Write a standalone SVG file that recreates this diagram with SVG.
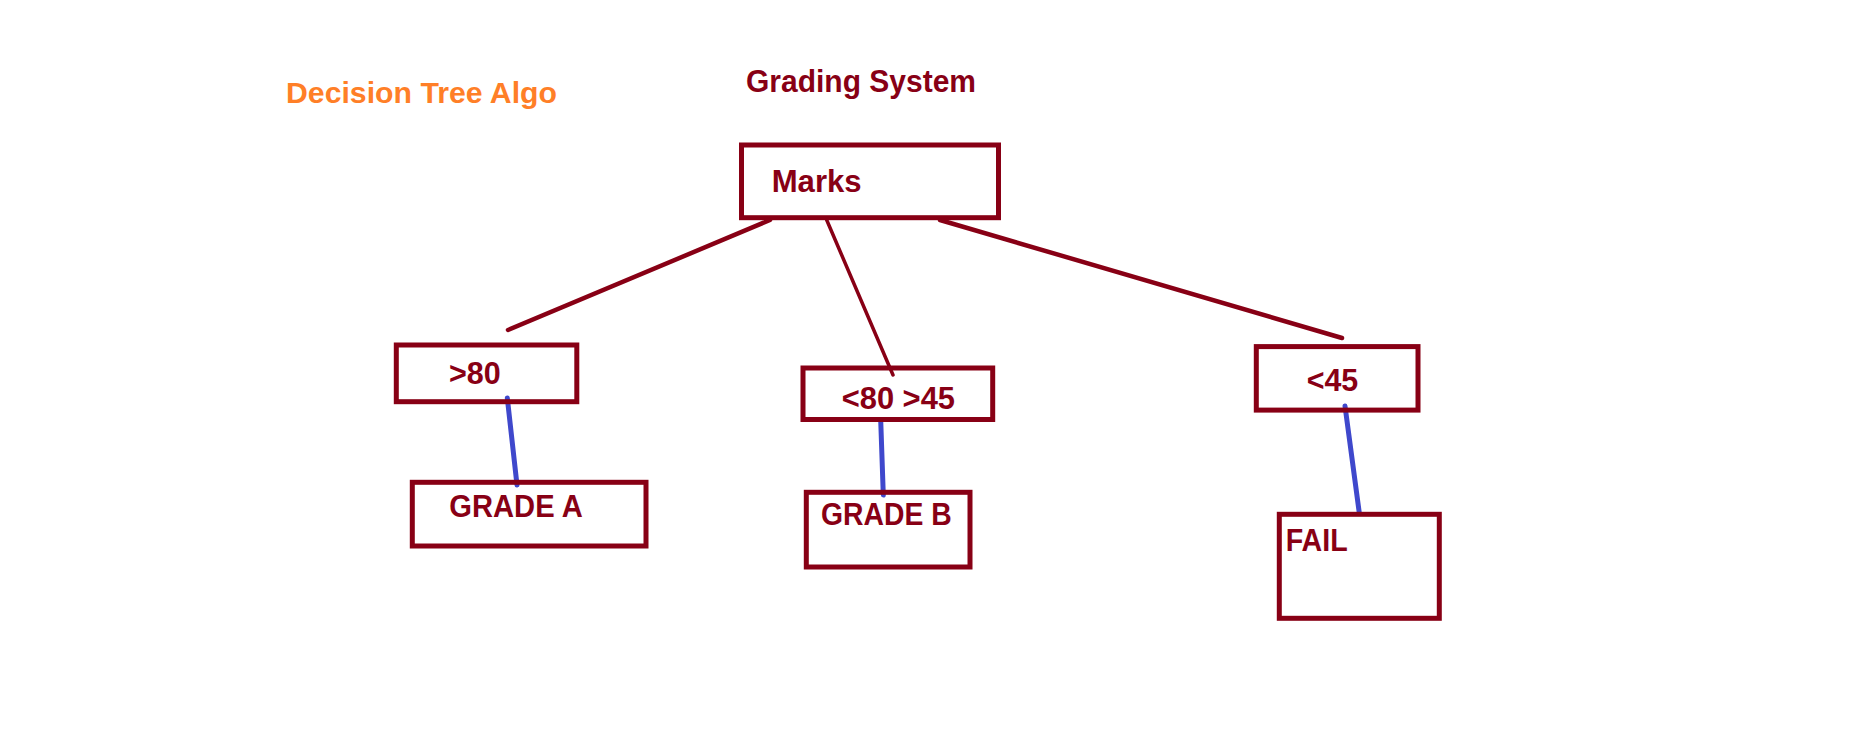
<svg xmlns="http://www.w3.org/2000/svg" width="1850" height="743" viewBox="0 0 1850 743">
<style>
.box{fill:none;stroke:#880015;stroke-width:5}
.lbl{font-family:"Liberation Sans",Arial,sans-serif;font-weight:bold;font-size:31px;fill:#880015}
.title{font-family:"Liberation Sans",Arial,sans-serif;font-weight:bold;font-size:29px;fill:#FF7F27}
.edge{stroke:#880015;stroke-width:4.5;stroke-linecap:round;fill:none}
.leaf{stroke:#3F48CC;stroke-width:5;stroke-linecap:round;fill:none}
</style>
<rect width="1850" height="743" fill="#ffffff"/>
<text class="title" x="286" y="103.3" textLength="271" lengthAdjust="spacingAndGlyphs">Decision Tree Algo</text>
<text class="lbl" x="746" y="92.3" textLength="230" lengthAdjust="spacingAndGlyphs">Grading System</text>
<g id="connectors">
<line class="edge" x1="770" y1="220" x2="508" y2="330"/>
<line class="edge" x1="826.7" y1="220" x2="893" y2="375" style="stroke-width:3.5"/>
<line class="edge" x1="940" y1="220" x2="1342" y2="338"/>
<line class="leaf" x1="507.3" y1="398" x2="517" y2="485"/>
<line class="leaf" x1="880.7" y1="420" x2="883.3" y2="495"/>
<line class="leaf" x1="1345" y1="406" x2="1359.3" y2="513"/>
</g>
<g id="node-marks">
<rect class="box" x="741.5" y="145" width="257" height="72.7"/>
<text class="lbl" x="771.7" y="191.7" textLength="90" lengthAdjust="spacingAndGlyphs">Marks</text>
</g>
<g id="node-gt80">
<rect class="box" x="396.3" y="345" width="180.5" height="56.7"/>
<text class="lbl" x="449" y="384" textLength="51.7" lengthAdjust="spacingAndGlyphs">&gt;80</text>
</g>
<g id="node-mid">
<rect class="box" x="803" y="368" width="189.7" height="51.5"/>
<text class="lbl" x="841.7" y="409.3" textLength="113.3" lengthAdjust="spacingAndGlyphs">&lt;80 &gt;45</text>
</g>
<g id="node-lt45">
<rect class="box" x="1256.3" y="346.6" width="161.7" height="63.5"/>
<text class="lbl" x="1306.7" y="390.7" textLength="51.6" lengthAdjust="spacingAndGlyphs">&lt;45</text>
</g>
<g id="node-gradea">
<rect class="box" x="412.3" y="482.3" width="233.7" height="63.7"/>
<text class="lbl" x="449.3" y="516.7" textLength="133.4" lengthAdjust="spacingAndGlyphs">GRADE A</text>
</g>
<g id="node-gradeb">
<rect class="box" x="806.3" y="492.3" width="163.7" height="74.7"/>
<text class="lbl" x="821" y="525" textLength="130.7" lengthAdjust="spacingAndGlyphs">GRADE B</text>
</g>
<g id="node-fail">
<rect class="box" x="1279.3" y="514.3" width="160" height="104"/>
<text class="lbl" x="1285.7" y="550.7" textLength="62" lengthAdjust="spacingAndGlyphs">FAIL</text>
</g>
</svg>
